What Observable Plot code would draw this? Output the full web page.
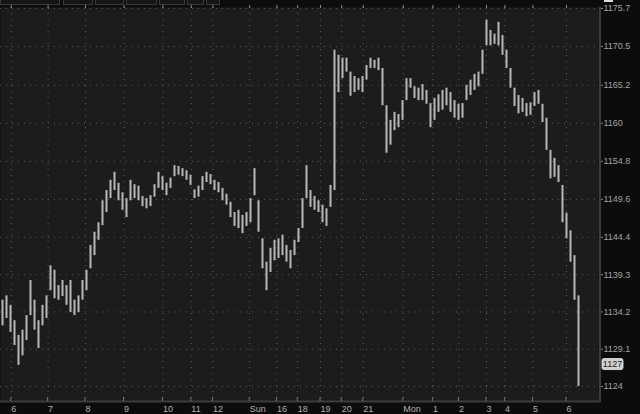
<!DOCTYPE html>
<html><head><meta charset="utf-8">
<script src="https://cdn.jsdelivr.net/npm/d3@7"></script>
<script src="https://cdn.jsdelivr.net/npm/@observablehq/plot@0.6"></script>
<style>
html,body{margin:0;padding:0;background:#0c0c0c;width:640px;height:414px;overflow:hidden}
#wrap{position:relative;width:640px;height:414px}
.tab{position:absolute;top:-3px;height:6px;border:1px solid #3a3a3a;background:#151515}
#icon{position:absolute;left:604px;top:0px;width:9px;height:2px;border-bottom:1px solid #ddd;border-top:1px solid #ddd;box-sizing:border-box}
</style></head><body><div id="wrap"></div>
<script>
// bar highs / lows (price), one bar per slot
const highs = [1135.8,1136.4,1135.1,1133.0,1131.0,1131.7,1133.7,1138.5,1135.8,1133.0,
1135.1,1136.4,1140.5,1139.9,1137.8,1138.5,1137.8,1138.5,1135.8,1136.4,
1138.5,1139.9,1143.3,1145.1,1146.4,1149.4,1150.8,1152.2,1153.3,1151.8,
1150.5,1149.7,1152.2,1151.6,1151.4,1150.0,1149.7,1150.1,1151.6,1153.3,
1152.7,1151.8,1152.5,1154.2,1154.1,1153.8,1153.5,1152.9,1150.9,1151.4,
1152.7,1153.3,1153.0,1152.2,1151.9,1151.1,1150.3,1149.2,1147.8,1148.1,
1147.4,1147.8,1149.7,1153.8,1149.4,1144.2,1141.0,1142.9,1144.0,1144.2,
1144.7,1143.3,1142.6,1144.0,1145.6,1149.7,1154.2,1150.8,1150.0,1149.4,
1148.8,1148.3,1151.5,1170.0,1169.3,1168.9,1168.9,1167.0,1166.4,1166.1,
1166.4,1167.9,1168.9,1168.6,1168.9,1167.5,1162.4,1160.4,1161.5,1161.2,
1163.1,1166.1,1166.1,1165.0,1164.8,1165.3,1164.5,1162.7,1163.4,1163.9,
1164.5,1164.8,1164.2,1163.1,1162.6,1162.7,1165.2,1165.9,1166.7,1167.0,
1170.0,1174.1,1172.7,1172.2,1173.8,1172.0,1170.0,1167.5,1164.8,1163.8,
1163.4,1162.7,1162.8,1164.2,1164.5,1162.6,1160.7,1156.3,1155.2,1154.2,
1151.5,1147.7,1145.3,1141.9,1136.4];
const lows = [1132.3,1133.3,1131.4,1129.6,1126.9,1128.2,1130.3,1133.7,1131.7,1129.2,
1132.3,1133.3,1137.1,1136.0,1135.8,1136.3,1135.1,1134.1,1133.7,1134.1,
1135.8,1137.1,1140.1,1141.9,1144.0,1146.0,1147.8,1149.7,1150.8,1149.4,
1148.1,1147.1,1149.4,1149.7,1149.4,1148.6,1148.3,1148.6,1149.9,1151.1,
1150.8,1150.1,1151.1,1152.7,1152.9,1152.7,1152.2,1151.5,1149.7,1149.9,
1150.8,1151.9,1151.6,1150.8,1150.5,1149.4,1148.8,1147.1,1145.9,1145.6,
1144.9,1145.9,1146.4,1150.1,1145.1,1140.1,1137.1,1139.6,1141.2,1141.5,
1141.9,1141.0,1140.1,1141.9,1143.7,1145.6,1149.7,1148.5,1148.1,1147.8,
1146.4,1145.9,1148.5,1150.8,1164.2,1166.1,1167.0,1163.7,1164.2,1164.5,
1164.2,1165.9,1167.5,1167.5,1167.2,1162.4,1155.9,1157.0,1159.0,1159.4,
1160.4,1163.1,1164.8,1163.4,1163.1,1163.1,1162.6,1159.4,1160.4,1161.5,
1161.8,1162.4,1161.5,1160.7,1160.4,1160.7,1163.1,1163.8,1164.5,1165.0,
1166.7,1170.6,1170.6,1170.8,1170.6,1169.3,1167.5,1164.8,1162.3,1161.3,
1161.5,1160.9,1161.1,1162.3,1162.6,1160.1,1156.3,1152.4,1152.6,1151.9,
1146.4,1144.2,1141.0,1135.8,1124.0];
// x axis (bar-slot positions and labels)
const xTickPos = [2.2,11.4,20.75,30.4,40.1,47.2,52.6,61.8,68.6,73.8,79.5,84.8,90.2,100.2,107.6,114.1,121,125.6,132.6,141];
const xTickLabels = ["6","7","8","9","10","11","12","Sun","16","18","19","20","21","Mon","1","2","3","4","5","6"];
// y axis ticks
const yTicks = [1124,1129.1,1134.2,1139.3,1144.4,1149.6,1154.8,1160,1165.2,1170.5,1175.7];
const lastPrice = 1127;

const bars = highs.map((h, i) => ({i, high: h, low: lows[i]}));

const chart = Plot.plot({
  width: 640, height: 414,
  marginLeft: 0, marginRight: 40, marginTop: 7, marginBottom: 13,
  style: {background: "#0c0c0c", color: "#a3a3a3", fontFamily: "'Liberation Sans', Arial, sans-serif", fontSize: "9px"},
  x: {domain: [-0.5, 149.5], axis: null, label: null},
  y: {domain: [1124, 1175.7], range: [386, 8], axis: null, label: null},
  marks: [
    Plot.frame({fill: "#1c1c1c"}),
    Plot.gridY({ticks: yTicks, stroke: "#5c5c5c", strokeOpacity: 1, strokeDasharray: "1,5"}),
    Plot.gridX({ticks: xTickPos, stroke: "#5c5c5c", strokeOpacity: 1, strokeDasharray: "1,5"}),
    Plot.ruleX(bars, {x: "i", y1: "low", y2: "high", stroke: "#b8b8b8", strokeWidth: 2}),
    Plot.axisY({ticks: yTicks, anchor: "right", label: null, tickSize: 2, tickPadding: 1, tickFormat: d => String(d), stroke: "#888", fill: "#a3a3a3"}),
    Plot.axisX({ticks: xTickPos, anchor: "bottom", label: null, tickSize: 0, tickPadding: 4, textAnchor: "start", tickFormat: d => xTickLabels[xTickPos.indexOf(d)], fill: "#b0b0b0"}),
    Plot.axisX({ticks: xTickPos, anchor: "top", label: null, tickSize: 3, tickFormat: () => "", stroke: "#8a8a8a"})
  ]
});

const svg = d3.select(chart);
const xs = chart.scale("x"), ys = chart.scale("y");
const bottom = 414 - 13, right = 600;
// bottom and right borders
svg.append("line").attr("x1", 0).attr("x2", right).attr("y1", bottom + 0.5).attr("y2", bottom + 0.5).attr("stroke", "#3c3c3c").attr("stroke-width", 2);
svg.append("line").attr("x1", right).attr("x2", right).attr("y1", 7).attr("y2", bottom + 1).attr("stroke", "#3c3c3c").attr("stroke-width", 2);
// inward bottom ticks
svg.append("g").selectAll("line").data(xTickPos).join("line")
  .attr("x1", d => xs.apply(d)).attr("x2", d => xs.apply(d))
  .attr("y1", bottom - 4).attr("y2", bottom).attr("stroke", "#777");
// last price badge
const by = ys.apply(lastPrice);
svg.append("rect").attr("x", 602).attr("y", by - 5.5).attr("width", 21).attr("height", 11).attr("rx", 2)
  .attr("fill", "#cfcfcf").attr("stroke", "#eee").attr("stroke-width", 0.8);
svg.append("text").attr("x", 612.5).attr("y", by).attr("dy", "0.35em").attr("text-anchor", "middle")
  .attr("fill", "#1a1a1a").attr("font-size", 9).attr("font-family", "'Liberation Sans', Arial, sans-serif").text(String(lastPrice));

const wrap = document.getElementById("wrap");
wrap.appendChild(chart);
chart.style.position = "absolute"; chart.style.left = "0"; chart.style.top = "0";
// header tabs strip
[[0,60],[63,93],[95,124],[126,157],[159,185],[187,204],[206,220]].forEach(([a, b]) => {
  const t = document.createElement("div");
  t.className = "tab"; t.style.left = a + "px"; t.style.width = (b - a - 2) + "px";
  wrap.appendChild(t);
});
const ic = document.createElement("div"); ic.id = "icon"; wrap.appendChild(ic);
</script></body></html>
